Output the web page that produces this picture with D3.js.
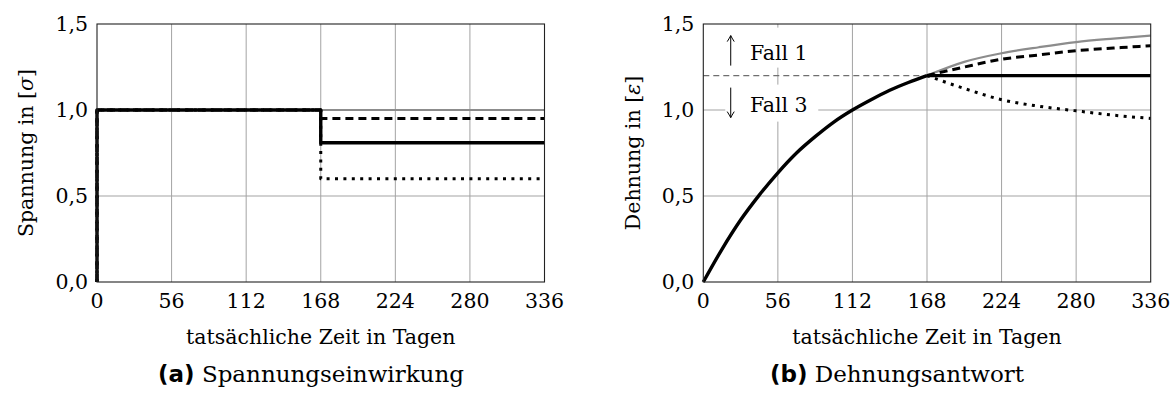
<!DOCTYPE html>
<html>
<head>
<meta charset="utf-8">
<script src="https://cdn.jsdelivr.net/npm/d3@7/dist/d3.min.js"></script>
<style>
  body { margin: 0; background: #fff; }
  svg { display: block; }
  text { font-family: "DejaVu Serif", serif; fill: #000; }
</style>
</head>
<body>
<svg id="fig" width="1175" height="403"></svg>
<script>
// ---- axes ----
const xTicks = [0, 56, 112, 168, 224, 280, 336];
const yTicks = [0.0, 0.5, 1.0, 1.5];
const xDomain = [0, 336];
const yDomain = [0, 1.5];

// ---- (a) stress history: step at t = 0 and reduction at t = 168 ----
const stressTime  = [0, 0, 168, 168, 336];
const stressConst = [0, 1.0, 1.0, 1.0, 1.0];
const stressSmall = [0, 1.0, 1.0, 0.95, 0.95];
const stressMid   = [0, 1.0, 1.0, 0.81, 0.81];
const stressLarge = [0, 1.0, 1.0, 0.60, 0.60];

// ---- (b) strain response ----
const loadTime   = [0, 14, 28, 42, 56, 70, 84, 98, 112, 126, 140, 154, 168];
const loadStrain = [0, 0.19, 0.36, 0.505, 0.635, 0.75, 0.845, 0.93, 1.0, 1.06, 1.115, 1.16, 1.20];
const afterTime   = [168, 196, 224, 252, 280, 308, 336];
const strainConst = [1.20, 1.28, 1.33, 1.365, 1.395, 1.415, 1.432];
const strainSmall = [1.20, 1.25, 1.295, 1.32, 1.345, 1.36, 1.374];
const strainMid   = [1.20, 1.20, 1.20, 1.20, 1.20, 1.20, 1.20];
const strainLarge = [1.20, 1.125, 1.06, 1.022, 0.995, 0.97, 0.951];
const refStrain = 1.2;
const refTime = [0, 168];

// ---- texts ----
const xLabel = "tatsächliche Zeit in Tagen";
const upLabel = "Fall 1";
const downLabel = "Fall 3";

// ---- line styles ----
const styles = {
  grey:   { stroke: "#8c8c8c", width: 2.2, dash: null },
  dashed: { stroke: "#000", width: 3, dash: "8,5" },
  solid:  { stroke: "#000", width: 3.4, dash: null },
  dotted: { stroke: "#000", width: 3, dash: "3,5.4" }
};

const fmt = d3.formatLocale({ decimal: ",", thousands: ".", grouping: [3], currency: ["", "€"] }).format(".1f");
const svg = d3.select("#fig");
const FS = 20.5;

function panel(x0, x1, yLabelX, yLabelMain, yLabelSym, captionX, captionTag, captionText) {
  const x = d3.scaleLinear().domain(xDomain).range([x0, x1]);
  const y = d3.scaleLinear().domain(yDomain).range([282, 24]);
  const g = svg.append("g");

  // grid
  g.append("g").selectAll("line").data(xTicks.slice(1, -1)).join("line")
    .attr("x1", d => x(d)).attr("x2", d => x(d)).attr("y1", y(0)).attr("y2", y(1.5))
    .attr("stroke", "#a3a3a3").attr("stroke-width", 1);
  g.append("g").selectAll("line").data(yTicks.slice(1, -1)).join("line")
    .attr("x1", x(0)).attr("x2", x(336)).attr("y1", d => y(d)).attr("y2", d => y(d))
    .attr("stroke", "#a3a3a3").attr("stroke-width", 1);

  // tick labels
  g.append("g").selectAll("text").data(xTicks).join("text")
    .attr("x", d => x(d)).attr("y", 308).attr("text-anchor", "middle")
    .attr("font-size", FS).text(d => d);
  g.append("g").selectAll("text").data(yTicks).join("text")
    .attr("x", x(0) - 9).attr("y", d => y(d) + 7).attr("text-anchor", "end")
    .attr("font-size", FS).text(d => fmt(d));

  // axis labels
  g.append("text").attr("x", (x0 + x1) / 2).attr("y", 344).attr("text-anchor", "middle")
    .attr("font-size", FS).text(xLabel);
  const yl = g.append("text").attr("transform", `translate(${yLabelX},153) rotate(-90)`)
    .attr("text-anchor", "middle").attr("font-size", FS);
  yl.append("tspan").text(yLabelMain + " [");
  yl.append("tspan").attr("font-style", "italic").text(yLabelSym);
  yl.append("tspan").text("]");

  // caption
  const cap = g.append("text").attr("x", captionX).attr("y", 382).attr("text-anchor", "middle").attr("font-size", 23);
  cap.append("tspan").attr("font-family", "DejaVu Sans").attr("font-weight", "bold").text(captionTag);
  cap.append("tspan").text(" " + captionText);

  return { g, x, y };
}

function drawLine(g, xs, ys, x, y, st, curve) {
  const pts = xs.map((t, i) => [t, ys[i]]);
  const line = d3.line().x(d => x(d[0])).y(d => y(d[1])).curve(curve || d3.curveLinear);
  g.append("path").attr("d", line(pts)).attr("fill", "none")
    .attr("stroke", st.stroke).attr("stroke-width", st.width)
    .attr("stroke-dasharray", st.dash).attr("stroke-linejoin", "round");
}

// ===== panel (a) =====
const A = panel(97, 544.5, 33, "Spannung in", "σ", 311, "(a)", "Spannungseinwirkung");
drawLine(A.g, stressTime, stressConst, A.x, A.y, styles.grey);
drawLine(A.g, stressTime, stressSmall, A.x, A.y, styles.dashed);
drawLine(A.g, stressTime, stressLarge, A.x, A.y, styles.dotted);
drawLine(A.g, stressTime, stressMid, A.x, A.y, styles.solid);
A.g.append("rect").attr("x", A.x(0)).attr("y", A.y(1.5)).attr("width", A.x(336) - A.x(0))
  .attr("height", A.y(0) - A.y(1.5)).attr("fill", "none").attr("stroke", "#222").attr("stroke-width", 1.1);

// ===== panel (b) =====
const B = panel(703.3, 1150.7, 640, "Dehnung in", "ε", 897, "(b)", "Dehnungsantwort");

// label boxes for the two cases
const bx = B.x(16.5), bw = 93;
[[upLabel, -48, -8, "up"], [downLabel, 9, 46, "down"]].forEach(([lab, t0, t1, dir]) => {
  const yr = B.y(refStrain);
  B.g.append("rect").attr("x", bx).attr("y", yr + t0).attr("width", bw).attr("height", t1 - t0).attr("fill", "#fff");
  const ax = B.x(20.6);
  const ya = dir === "up" ? yr - 10 : yr + 12;
  const yb = dir === "up" ? yr - 40 : yr + 42;
  B.g.append("line").attr("x1", ax).attr("x2", ax).attr("y1", ya).attr("y2", yb).attr("stroke", "#000").attr("stroke-width", 1);
  const s = dir === "up" ? 1 : -1;
  B.g.append("path").attr("d", `M${ax - 3.5},${yb + s * 6} Q${ax - 1},${yb + s * 2} ${ax},${yb} Q${ax + 1},${yb + s * 2} ${ax + 3.5},${yb + s * 6}`)
    .attr("fill", "none").attr("stroke", "#000").attr("stroke-width", 1);
  B.g.append("text").attr("x", B.x(35)).attr("y", dir === "up" ? yr - 16 : yr + 36)
    .attr("font-size", FS).text(lab);
});

// reference level
B.g.append("line").attr("x1", B.x(refTime[0])).attr("x2", B.x(refTime[1]))
  .attr("y1", B.y(refStrain)).attr("y2", B.y(refStrain))
  .attr("stroke", "#6f6f6f").attr("stroke-width", 1.1).attr("stroke-dasharray", "6,4");

drawLine(B.g, afterTime, strainConst, B.x, B.y, styles.grey, d3.curveMonotoneX);
drawLine(B.g, afterTime, strainSmall, B.x, B.y, styles.dashed, d3.curveMonotoneX);
drawLine(B.g, afterTime, strainLarge, B.x, B.y, styles.dotted, d3.curveMonotoneX);
drawLine(B.g, afterTime, strainMid, B.x, B.y, styles.solid);
drawLine(B.g, loadTime, loadStrain, B.x, B.y, styles.solid, d3.curveMonotoneX);
B.g.append("rect").attr("x", B.x(0)).attr("y", B.y(1.5)).attr("width", B.x(336) - B.x(0))
  .attr("height", B.y(0) - B.y(1.5)).attr("fill", "none").attr("stroke", "#222").attr("stroke-width", 1.1);
</script>
</body>
</html>
